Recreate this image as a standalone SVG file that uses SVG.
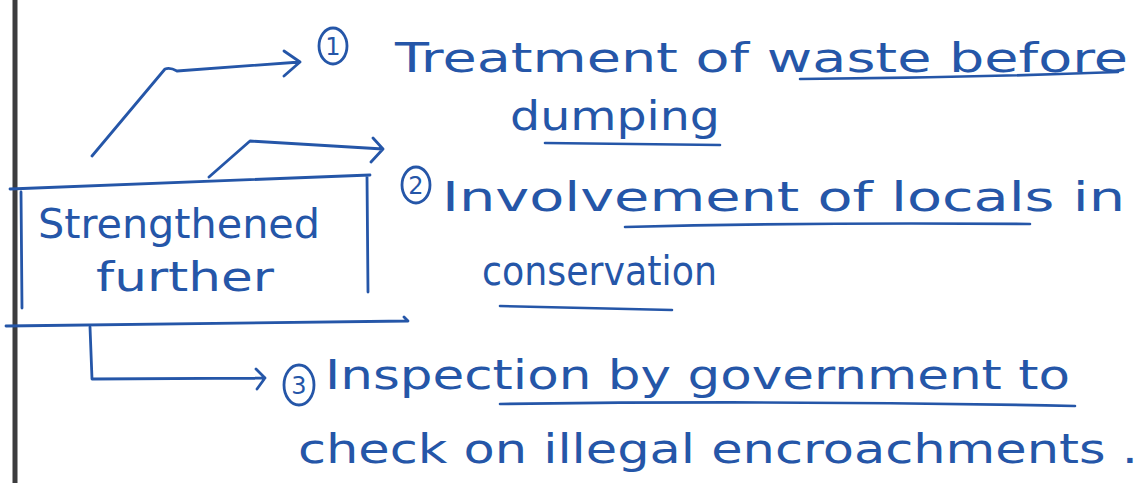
<svg xmlns="http://www.w3.org/2000/svg" width="1140" height="483" viewBox="0 0 1140 483">
  <style>
    .ink { fill: none; stroke: #2556a8; stroke-width: 2.8; stroke-linecap: round; stroke-linejoin: round; }
    .ul { fill: none; stroke: #2556a8; stroke-width: 2.6; stroke-linecap: round; }
    .t { font-family: "DejaVu Sans", "Liberation Sans", sans-serif; fill: #2556a8; font-size: 40px; }
    .num { font-family: "DejaVu Sans", "Liberation Sans", sans-serif; fill: #2556a8; font-size: 24px; text-anchor: middle; }
  </style>
  <rect x="0" y="0" width="1140" height="483" fill="#ffffff"/>
  <line x1="15" y1="0" x2="15" y2="483" stroke="#3c3c3e" stroke-width="5"/>

  <g id="box">
    <path class="ink" d="M10,189 L370,175 M21,192 L22,308 M367,176 L368,292 M6,326 L408,321 L404,317"/>
    <text class="t" x="38" y="238" textLength="282" lengthAdjust="spacingAndGlyphs">Strengthened</text>
    <text class="t" x="96" y="291" textLength="178" lengthAdjust="spacingAndGlyphs">further</text>
  </g>

  <g id="item1">
    <ellipse class="ink" cx="333" cy="46" rx="14" ry="18"/>
    <text class="num" x="333" y="55">1</text>
    <text class="t" x="395" y="72" textLength="733" lengthAdjust="spacingAndGlyphs">Treatment of waste before</text>
    <text class="t" x="510" y="130" textLength="210" lengthAdjust="spacingAndGlyphs">dumping</text>
    <path class="ul" d="M800,79 Q960,78 1118,72"/>
    <path class="ul" d="M545,143 L720,145"/>
  </g>

  <g id="item2">
    <ellipse class="ink" cx="416" cy="185" rx="14" ry="18"/>
    <text class="num" x="416" y="194">2</text>
    <text class="t" x="442" y="211" textLength="683" lengthAdjust="spacingAndGlyphs">Involvement of locals in</text>
    <text class="t" x="482" y="285" textLength="235" lengthAdjust="spacingAndGlyphs">conservation</text>
    <path class="ul" d="M625,227 Q820,222 1030,224"/>
    <path class="ul" d="M500,306 Q590,308 672,310"/>
  </g>

  <g id="item3">
    <ellipse class="ink" cx="299" cy="385" rx="15" ry="20"/>
    <text class="num" x="299" y="394">3</text>
    <text class="t" x="325" y="389" textLength="745" lengthAdjust="spacingAndGlyphs">Inspection by government to</text>
    <text class="t" x="298" y="463" textLength="840" lengthAdjust="spacingAndGlyphs">check on illegal encroachments .</text>
    <path class="ul" d="M500,404 Q790,400 1075,406"/>
  </g>

  <g id="connectors">
    <path class="ink" d="M92,156 L165,69 Q170,67 177,71 L300,62 M284,51 L300,62 L284,76"/>
    <path class="ink" d="M209,177 L250,141 L383,149 M373,138 L383,149 L371,162"/>
    <path class="ink" d="M90,327 L92,379 L265,378 M256,369 L265,378 L257,389"/>
  </g>
</svg>
